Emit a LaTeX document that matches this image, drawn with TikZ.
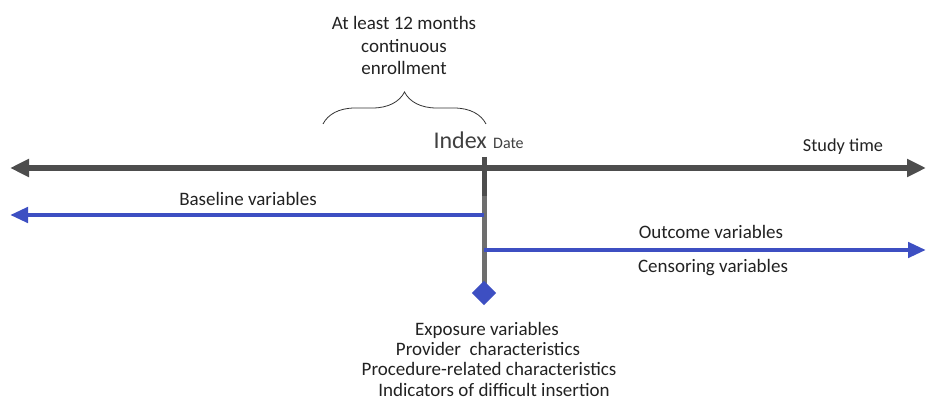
\documentclass[tikz,border=0pt]{standalone}
\usepackage{fontspec}
\setmainfont{Carlito}
\usetikzlibrary{arrows.meta,decorations.pathreplacing}
\definecolor{axisgray}{HTML}{4D4D4D}
\definecolor{stemgray}{HTML}{6E6E6E}
\definecolor{varblue}{HTML}{3D4FC2}
\definecolor{txt}{HTML}{222222}
\tikzset{
  lbl/.style={inner sep=0pt, anchor=base, font=\fontsize{19}{20}\selectfont, text=txt},
  axisline/.style={draw=axisgray, line width=6pt},
  varline/.style={draw=varblue, line width=4.5pt},
  graytip/.style={-{Triangle[length=19pt,width=17pt]}},
  bluetip/.style={-{Triangle[length=18pt,width=15pt]}},
}
\begin{document}
\begin{tikzpicture}[x=1pt,y=-1pt]
\useasboundingbox (0,0) rectangle (927,403);
% coordinates
\coordinate (axL) at (10,168);
\coordinate (axR) at (926,168);
\coordinate (stemTop) at (484,157);
\coordinate (stemMid) at (484,196);
\coordinate (baseL) at (10,215);
\coordinate (baseR) at (484,215);
\coordinate (outL) at (484,250);
\coordinate (outR) at (926,250);
\coordinate (braceL) at (323,124);
\coordinate (braceR) at (486,124);
% stem
\draw[draw=stemgray, line width=5pt] (stemMid) -- (484,284);
\draw[draw=axisgray, line width=5pt] (stemTop) -- (stemMid);
% axis
\draw[axisline, graytip] (stemTop |- axL) -- (axL);
\draw[axisline, graytip] (stemTop |- axR) -- (axR);
% variable arrows
\draw[varline, bluetip] (baseR) -- (baseL);
\draw[varline, bluetip] (outL) -- (outR);
% diamond
\node[draw=none, fill=varblue, minimum size=17pt, inner sep=0pt, rotate=45] (exp) at (484,293) {};
% brace
\draw[decorate, decoration={brace, amplitude=32pt, aspect=0.5}, line width=0.8pt, draw=black!80] (braceL) -- (braceR);
% labels
\node[lbl] (enroll1) at (404,30) {At least 12 months};
\node[lbl] (enroll2) at (404,53) {continuous};
\node[lbl] (enroll3) at (404,75) {enrollment};
\node[lbl, font=\fontsize{24}{26}\selectfont, text=black!75, anchor=base east] (index) at (487,149) {Index};
\node[lbl, font=\fontsize{16}{18}\selectfont, text=black!75, anchor=base west] (date) at (493,149) {Date};
\node[lbl, font=\fontsize{18.3}{20}\selectfont] (study) at (843,152) {Study time};
\node[lbl] (baseline) at (248,206) {Baseline variables};
\node[lbl] (outcome) at (711,239) {Outcome variables};
\node[lbl] (censor) at (713,273) {Censoring variables};
\node[lbl] (expvars1) at (487,336) {Exposure variables};
\node[lbl] (expvars2) at (488,356) {Provider\ \ characteristics};
\node[lbl] (expvars3) at (489,376) {Procedure-related characteristics};
\node[lbl] (expvars4) at (494,396) {Indicators of difficult insertion};
\end{tikzpicture}
\end{document}
